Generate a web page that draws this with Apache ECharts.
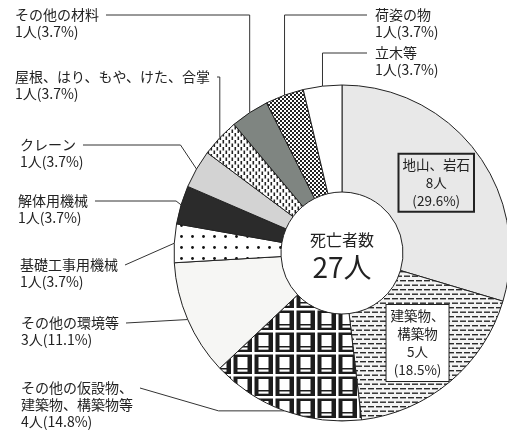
<!DOCTYPE html>
<html>
<head>
<meta charset="utf-8">
<script src="https://cdn.jsdelivr.net/npm/echarts@6/dist/echarts.min.js"></script>
<style>
  html, body { margin: 0; padding: 0; background: #fff; }
  #chart { width: 507px; height: 430px; }
</style>
</head>
<body>
<div id="chart"></div>
<script>
// 死亡者数の内訳（時計回り、12時から）
const categories = [
  '地山、岩石',
  '建築物、\n構築物',
  'その他の仮設物、\n建築物、構築物等',
  'その他の環境等',
  '基礎工事用機械',
  '解体用機械',
  'クレーン',
  '屋根、はり、もや、けた、合掌',
  'その他の材料',
  '荷姿の物',
  '立木等'
];
const deaths = [8, 5, 4, 3, 1, 1, 1, 1, 1, 1, 1];
const insideLabels = [0, 1];

const FONT = '"Noto Sans CJK JP", "Noto Sans", sans-serif';
const total = deaths.reduce((a, b) => a + b, 0);

// 塗りパターン
const makePattern = (w, h, draw) => {
  const c = document.createElement('canvas');
  c.width = w;
  c.height = h;
  draw(c.getContext('2d'), w, h);
  return { image: c, repeat: 'repeat' };
};

const dashes = makePattern(8, 9, (ctx, w, h) => {
  ctx.fillStyle = '#f3f3f3';
  ctx.fillRect(0, 0, w, h);
  ctx.fillStyle = '#2a2a2a';
  ctx.fillRect(0, 1, 6, 1.4);
  ctx.fillRect(4, 5.5, 6, 1.4);
  ctx.fillRect(-4, 5.5, 6, 1.4);
});
const windows = makePattern(21, 22, (ctx, w, h) => {
  ctx.fillStyle = '#1c1c1c';
  ctx.fillRect(0, 0, w, h);
  ctx.fillStyle = '#fff';
  ctx.fillRect(0, 0, w, 2.5);
  ctx.fillRect(0, 0, 2.5, h);
  ctx.fillRect(6.5, 5, 10, 11);
  ctx.fillRect(6.5, 17.5, 10, 2.2);
});
const sparseDots = makePattern(11, 11, (ctx, w, h) => {
  ctx.fillStyle = '#fff';
  ctx.fillRect(0, 0, w, h);
  ctx.fillStyle = '#111';
  ctx.beginPath();
  ctx.arc(5.5, 5.5, 1.4, 0, Math.PI * 2);
  ctx.fill();
});
const ticks = makePattern(6, 7, (ctx, w, h) => {
  ctx.fillStyle = '#fff';
  ctx.fillRect(0, 0, w, h);
  ctx.fillStyle = '#222';
  ctx.fillRect(0.5, 0, 1.6, 3.5);
  ctx.fillRect(3.5, 3.5, 1.6, 3.5);
});
const checker = makePattern(4, 4, (ctx, w, h) => {
  ctx.fillStyle = '#fff';
  ctx.fillRect(0, 0, w, h);
  ctx.fillStyle = '#222';
  ctx.fillRect(0, 0, 2, 2);
  ctx.fillRect(2, 2, 2, 2);
});

const fills = [
  '#e8e8e8', dashes, windows, '#f6f6f4', sparseDots, '#2b2b2b',
  '#d3d3d3', ticks, '#7f8581', checker, '#ffffff'
];

// 外側ラベルの配置と引出線の形
const labelSpots = {
  2: { x: 21, y: 379, side: 'left', knee: 'flat', dx: -66 },
  3: { x: 21, y: 314, side: 'left', knee: 'none' },
  4: { x: 20, y: 256, side: 'left', knee: 'none' },
  5: { x: 18, y: 192, side: 'left', knee: 'up', dx: -5 },
  6: { x: 20, y: 136, side: 'left', knee: 'up', dx: -16 },
  7: { x: 15, y: 68, side: 'left', knee: 'up', dx: 0 },
  8: { x: 15, y: 6, side: 'left', knee: 'up', dx: 0 },
  9: { x: 375, y: 6, side: 'right', knee: 'up', dx: 0 },
  10: { x: 375, y: 44, side: 'right', knee: 'up', dx: 0 }
};

const measure = document.createElement('canvas').getContext('2d');
measure.font = '14px ' + FONT;

const pct = (v) => (v / total * 100).toFixed(1);

const seriesData = categories.map((name, i) => {
  const inside = insideLabels.includes(i);
  return {
    name,
    value: deaths[i],
    itemStyle: { color: fills[i] },
    label: inside ? {
      position: 'inside',
      formatter: (p) => `${p.name}\n${p.value}人\n(${pct(p.value)}%)`,
      fontSize: 13.5,
      lineHeight: 18,
      borderColor: '#222',
      borderWidth: 1,
      padding: [2, 4],
      backgroundColor: i === 1 ? '#fff' : 'transparent'
    } : {},
    labelLine: { show: !inside }
  };
});

const chart = echarts.init(document.getElementById('chart'));
chart.setOption({
  animation: false,
  graphic: [
    {
      type: 'text', x: 342, y: 240, silent: true,
      style: { text: '死亡者数', font: '16px ' + FONT, fill: '#222', align: 'center', verticalAlign: 'middle' }
    },
    {
      type: 'text', x: 342, y: 267, silent: true,
      style: { text: total + '人', font: '28px ' + FONT, fill: '#222', align: 'center', verticalAlign: 'middle' }
    }
  ],
  series: [{
    type: 'pie',
    center: [342, 253],
    radius: [61, 168],
    startAngle: 90,
    clockwise: true,
    avoidLabelOverlap: false,
    emphasis: { disabled: true },
    itemStyle: { borderColor: '#222', borderWidth: 1 },
    label: {
      position: 'outside',
      color: '#222',
      fontFamily: FONT,
      fontSize: 14,
      lineHeight: 17,
      overflow: 'none',
      formatter: (p) => `${p.name}\n${p.value}人(${pct(p.value)}%)`
    },
    labelLine: {
      length: 10,
      length2: 10,
      lineStyle: { color: '#333', width: 1 }
    },
    labelLayout: (params) => {
      const spot = labelSpots[params.dataIndex];
      if (!spot || !params.labelLinePoints) return {};
      const a = params.labelLinePoints[0];
      const firstLine = categories[params.dataIndex].split('\n')[0];
      const w = measure.measureText(firstLine).width;
      const ly = spot.y + 9;
      const endX = spot.side === 'left' ? spot.x + w + 7 : spot.x - 8;
      let pts;
      if (spot.knee === 'up') {
        pts = [a, [a[0] + spot.dx, ly], [endX, ly]];
      } else if (spot.knee === 'flat') {
        pts = [a, [a[0] + spot.dx, a[1]], [endX, ly]];
      } else {
        pts = [a, [endX, ly]];
      }
      return {
        x: spot.x,
        y: spot.y,
        align: 'left',
        verticalAlign: 'top',
        labelLinePoints: pts
      };
    },
    data: seriesData
  }]
});
</script>
</body>
</html>
